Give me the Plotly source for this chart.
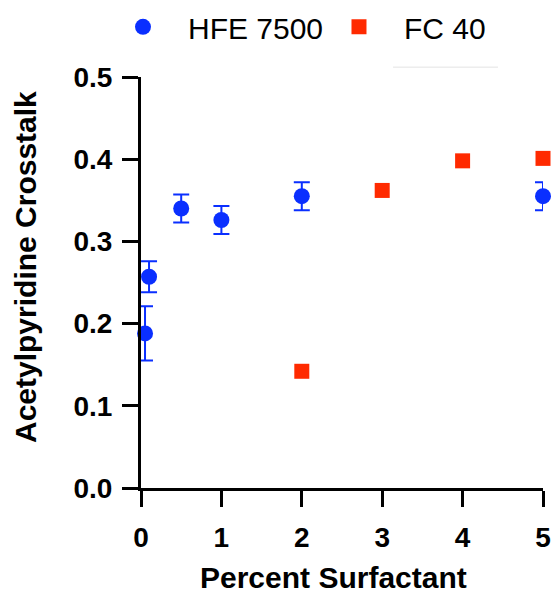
import plotly.graph_objects as go

# Data
hfe_x = [0.05, 0.1, 0.5, 1, 2, 5]
hfe_y = [0.188, 0.257, 0.340, 0.326, 0.355, 0.355]
hfe_err = [0.033, 0.019, 0.017, 0.017, 0.017, 0.017]

fc_x = [2, 3, 4, 5]
fc_y = [0.142, 0.362, 0.398, 0.401]

x_ticks = [0, 1, 2, 3, 4, 5]
y_ticks = [0.0, 0.1, 0.2, 0.3, 0.4, 0.5]

x_title = "Percent Surfactant"
y_title = "Acetylpyridine Crosstalk"

BLUE = "#0a2fff"
RED = "#ff2a00"
FONT = "Liberation Sans, Arial, Helvetica, sans-serif"

fig = go.Figure()
fig.add_trace(go.Scatter(
    x=hfe_x, y=hfe_y, mode="markers", name="HFE 7500",
    marker=dict(symbol="circle", size=16, color=BLUE),
    error_y=dict(type="data", array=hfe_err, visible=True, color=BLUE,
                 thickness=2, width=8),
    cliponaxis=False,
))
fig.add_trace(go.Scatter(
    x=fc_x, y=fc_y, mode="markers", name="FC 40",
    marker=dict(symbol="square", size=15, color=RED),
    cliponaxis=False,
))

title_font = dict(size=30, family=FONT, color="black", weight="bold")

fig.update_layout(
    width=553, height=593,
    margin=dict(l=141, r=10, t=77, b=105, autoexpand=False),
    paper_bgcolor="white", plot_bgcolor="white",
    font=dict(family=FONT, color="black"),
    showlegend=True,
    legend=dict(
        orientation="h", x=-0.107, xanchor="left", y=1.122, yanchor="middle",
        font=dict(size=30, family=FONT, color="black"),
        itemwidth=80, entrywidth=121, entrywidthmode="pixels",
        bgcolor="rgba(0,0,0,0)",
    ),
    shapes=[dict(type="line", xref="paper", yref="paper",
                 x0=0.627, x1=0.888, y0=1.024, y1=1.024,
                 line=dict(color="#e3e3e3", width=1))],
    annotations=[
        dict(text=y_title, textangle=-90, xref="paper", yref="paper",
             x=(25 - 141) / 402, y=(488 - 267) / 411,
             xanchor="center", yanchor="middle", showarrow=False,
             font=title_font),
        dict(text=x_title, xref="paper", yref="paper",
             x=(333 - 141) / 402, y=(488 - 577) / 411,
             xanchor="center", yanchor="middle", showarrow=False,
             font=title_font),
    ],
)

fig.update_xaxes(
    range=[0, 5], tickvals=x_ticks, ticktext=[str(v) for v in x_ticks],
    showgrid=False, zeroline=False,
    showline=True, linecolor="black", linewidth=3,
    ticks="outside", ticklen=16, tickwidth=3, tickcolor="black",
    tickfont=dict(size=28, family=FONT, color="black", weight="bold"),
    ticklabelstandoff=6,
)
fig.update_yaxes(
    range=[0, 0.5], tickvals=y_ticks, ticktext=[f"{v:.1f}" for v in y_ticks],
    showgrid=False, zeroline=False,
    showline=True, linecolor="black", linewidth=3,
    ticks="outside", ticklen=16, tickwidth=3, tickcolor="black",
    tickfont=dict(size=28, family=FONT, color="black", weight="bold"),
    ticklabelstandoff=4,
)

fig.write_html("out.html")
